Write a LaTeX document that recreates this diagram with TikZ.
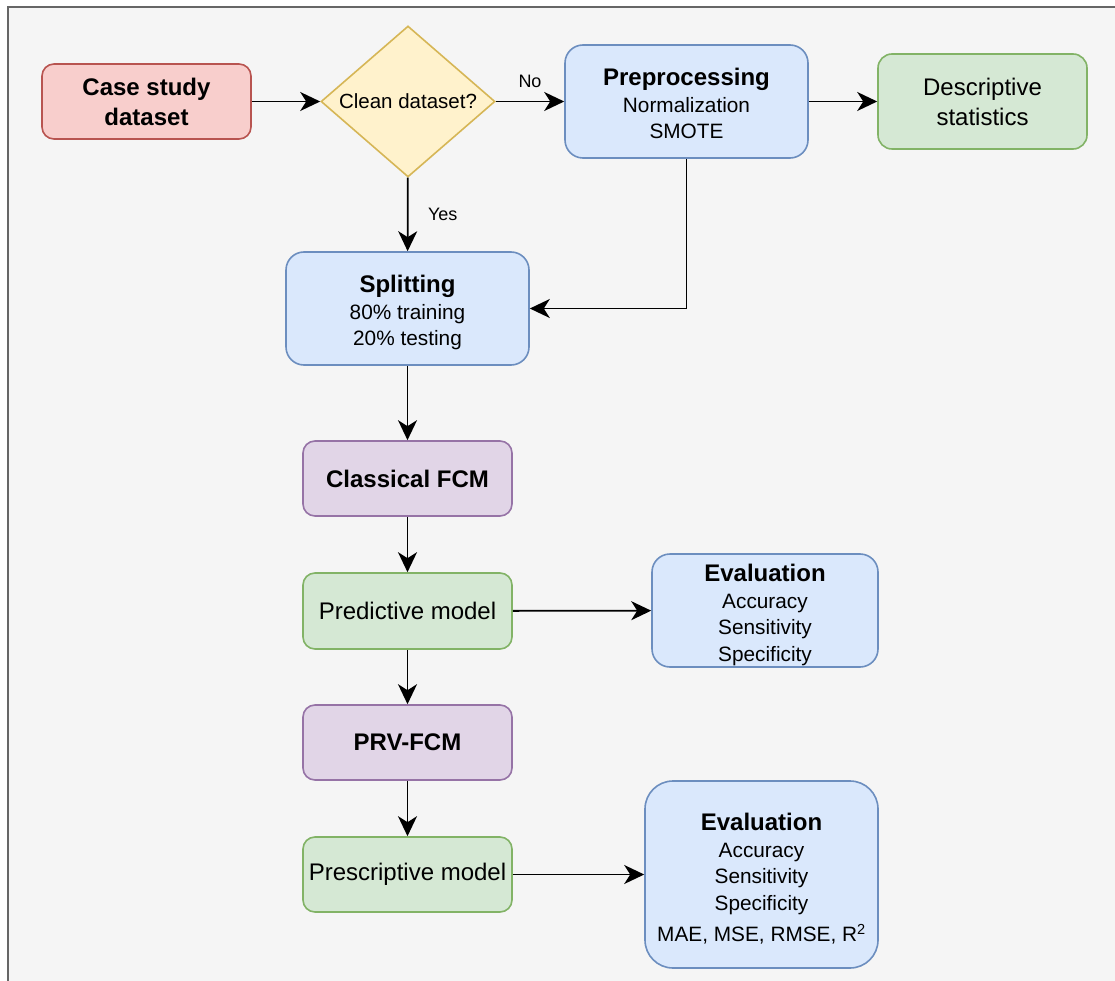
\documentclass[tikz,border=0pt]{standalone}
\usepackage{fontspec}
\setmainfont{Liberation Sans}
\usetikzlibrary{shapes.geometric,arrows.meta}
\definecolor{bgc}{HTML}{F5F5F5}
\definecolor{framec}{HTML}{666666}
\definecolor{redf}{HTML}{F8CECC}\definecolor{redd}{HTML}{B85450}
\definecolor{yelf}{HTML}{FFF2CC}\definecolor{yeld}{HTML}{D6B656}
\definecolor{bluf}{HTML}{DAE8FC}\definecolor{blud}{HTML}{6C8EBF}
\definecolor{grnf}{HTML}{D5E8D4}\definecolor{grnd}{HTML}{82B366}
\definecolor{purf}{HTML}{E1D5E7}\definecolor{purd}{HTML}{9673A6}
\newcommand\bigfont{\fontsize{24}{30}\selectfont}
\newcommand\smallfont{\fontsize{20.8}{26.5}\selectfont}
\newcommand\ttl[1]{{\bigfont\bfseries\rule{0pt}{26pt}#1}}
\tikzset{
  box/.style={rectangle, line width=1.6pt, inner sep=0pt, align=center, text=black},
  redbox/.style={box, fill=redf, draw=redd},
  yelbox/.style={fill=yelf, draw=yeld, line width=1.6pt, diamond, inner sep=0pt},
  blubox/.style={box, fill=bluf, draw=blud},
  grnbox/.style={box, fill=grnf, draw=grnd},
  purbox/.style={box, fill=purf, draw=purd},
  conn/.style={line width=1.8pt, -{Stealth[length=20pt,width=19pt,inset=6pt]}},
  lab/.style={font=\fontsize{18}{20}\selectfont, inner sep=0pt}
}
\begin{document}
\begin{tikzpicture}[x=1pt,y=-1pt]
\useasboundingbox (0,0) rectangle (1115,981);
\clip (0,0) rectangle (1115,981);
\fill[white] (0,0) rectangle (1115,981);
\draw[line width=1.6pt, draw=framec, fill=bgc] (8,7) rectangle (1130,995);

\node[redbox, minimum width=209pt, minimum height=75pt, rounded corners=12pt, font=\bigfont\bfseries] (case) at (146.5,101.5) {Case study\\dataset};
\node[yelbox, minimum width=174pt, minimum height=151pt] (clean) at (408,101.5) {\fontsize{20.5}{24}\selectfont\makebox[0pt]{Clean dataset?}};
\node[blubox, minimum width=243pt, minimum height=113pt, rounded corners=18pt, font=\smallfont] (pre) at (686.5,101.5) {{\bigfont\bfseries\rule{0pt}{22pt}Preprocessing}\\Normalization\\SMOTE};
\node[grnbox, minimum width=209pt, minimum height=95pt, rounded corners=14pt, font=\bigfont] (desc) at (982.5,101.5) {Descriptive\\statistics};
\node[blubox, minimum width=243pt, minimum height=113pt, rounded corners=18pt, font=\smallfont] (split) at (407.5,308.5) {\ttl{Splitting}\\80\% training\\20\% testing};
\node[purbox, minimum width=209pt, minimum height=75pt, rounded corners=12pt, font=\bigfont\bfseries] (cfcm) at (407.5,478.5) {Classical FCM};
\node[grnbox, minimum width=209pt, minimum height=76pt, rounded corners=12pt, font=\bigfont] (pred) at (407.5,611) {Predictive model};
\node[blubox, minimum width=226pt, minimum height=113pt, rounded corners=18pt, font=\smallfont] (eval1) at (765,610.5) {\ttl{Evaluation}\\Accuracy\\Sensitivity\\Specificity};
\node[purbox, minimum width=209pt, minimum height=75pt, rounded corners=12pt, font=\bigfont\bfseries] (prv) at (407.5,742.5) {PRV-FCM};
\node[grnbox, minimum width=209pt, minimum height=75pt, rounded corners=12pt, font=\bigfont] (presc) at (407.5,874.5) {Prescriptive model};
\node[blubox, minimum width=233pt, minimum height=187pt, rounded corners=28pt, font=\smallfont] (eval2) at (761.5,874.5) {\ttl{Evaluation}\\Accuracy\\Sensitivity\\Specificity\\[5pt]MAE, MSE, RMSE, R\textsuperscript{2}};

\coordinate (corner) at (pre.south |- split.east);
\draw[conn] (case) -- (clean);
\draw[conn] (clean) -- node[lab, midway, yshift=20pt] (no) {No} (pre);
\draw[conn] (pre) -- (desc);
\draw[conn] (clean) -- node[lab, midway, xshift=35pt] (yes) {Yes} (split);
\draw[conn] (pre.south) -- (corner) -- (split.east);
\draw[conn] (split) -- (cfcm);
\draw[conn] (cfcm) -- (pred);
\draw[conn] (pred) -- (eval1);
\draw[conn] (pred) -- (prv);
\draw[conn] (prv) -- (presc);
\draw[conn] (presc) -- (eval2);
\end{tikzpicture}
\end{document}
